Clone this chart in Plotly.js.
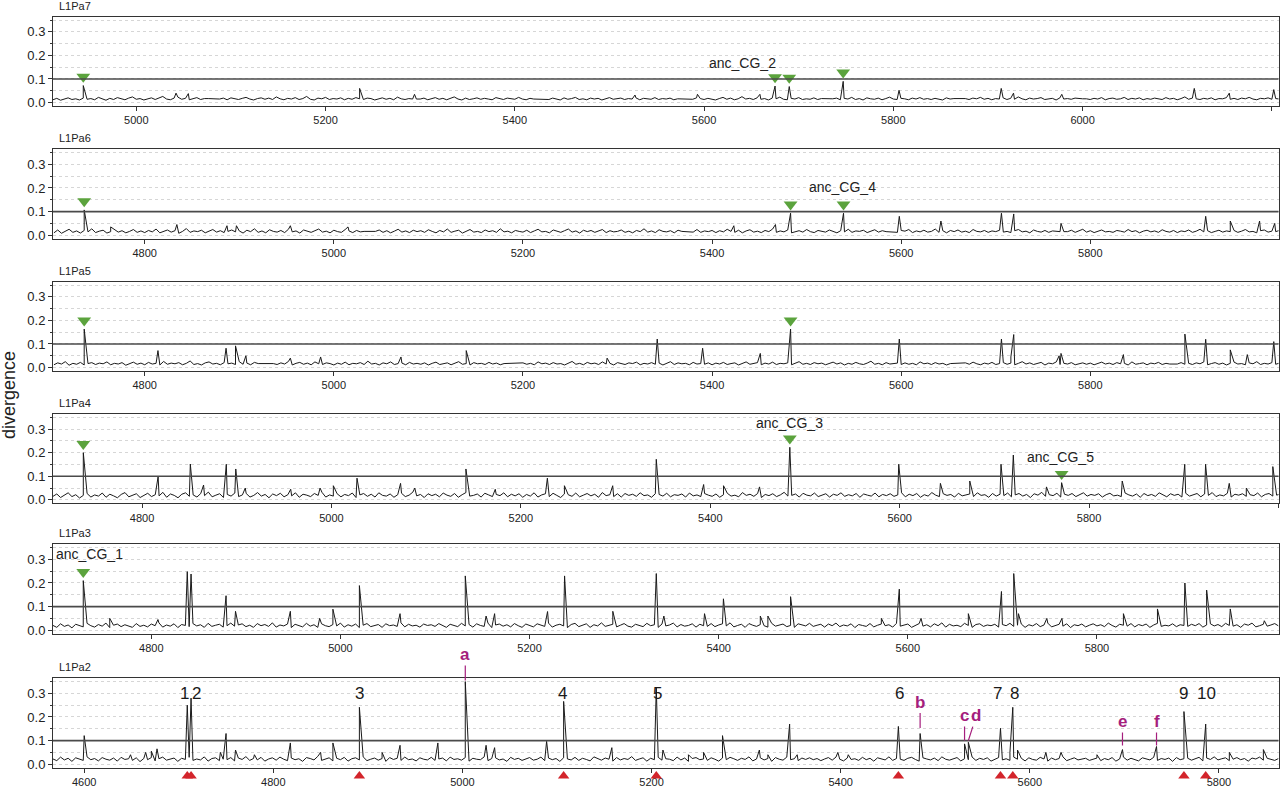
<!DOCTYPE html>
<html><head><meta charset="utf-8">
<script src="https://cdn.plot.ly/plotly-3.0.1.min.js"></script>
<style>html,body{margin:0;padding:0;background:#fff}#chart{width:1280px;height:789px}</style>
</head><body><div id="chart"></div>
<script>
// ---------- DATA ----------
const panelNames = ['L1Pa7','L1Pa6','L1Pa5','L1Pa4','L1Pa3','L1Pa2'];
const xRanges = [[4912,6207],[4703,5999],[4703,5999],[4706,6000],[4696,5992],[4567,5863]];
const baseStart = [4912,4704,4704,4706,4696,4567];
const baseStep = 4;

const base_L1Pa7 = [
.012,.018,.010,.015,.020,.013,.016,.011,.019,.014,.017,.012,.022,.015,.010,.018,.013,.021,.016,.012,.019,.024,.014,.017,.011,
.016,.020,.013,.018,.026,.015,.012,.019,.023,.014,.018,.012,.016,.021,.013,.017,.017,.017,.017,.015,.019,.012,.020,.016,.013,
.018,.022,.015,.011,.017,.020,.014,.019,.013,.024,.016,.012,.018,.015,.021,.013,.017,.026,.014,.011,.019,.016,.022,.013,.017,
.015,.020,.012,.018,.014,.021,.016,.013,.019,.017,.011,.015,.020,.014,.018,.012,.023,.016,.013,.017,.015,.015,.015,.019,.012,
.016,.021,.014,.018,.012,.017,.024,.015,.011,.019,.013,.016,.020,.014,.018,.015,.012,.021,.017,.013,.019,.016,.014,.022,.015,
.012,.018,.015,.015,.015,.015,.013,.019,.016,.011,.020,.014,.017,.022,.013,.016,.012,.019,.015,.018,.011,.017,.021,.014,.016,
.019,.013,.017,.015,.020,.012,.018,.016,.014,.021,.013,.017,.015,.019,.012,.016,.016,.016,.016,.014,.020,.017,.013,.018,.015,
.011,.017,.022,.014,.019,.012,.016,.025,.015,.018,.013,.020,.014,.017,.011,.019,.016,.023,.014,.012,.018,.015,.021,.013,.016,
.014,.020,.013,.017,.016,.016,.016,.019,.012,.018,.015,.022,.013,.017,.011,.020,.016,.014,.019,.012,.017,.023,.015,.013,.018,
.016,.012,.019,.015,.021,.014,.017,.013,.018,.016,.011,.020,.015,.017,.017,.017,.017,.013,.019,.016,.022,.014,.018,.012,.017,
.015,.020,.013,.018,.014,.024,.016,.012,.019,.015,.017,.021,.013,.016,.018,.011,.020,.015,.017,.014,.019,.016,.016,.016,.013,
.018,.015,.021,.012,.017,.019,.014,.016,.022,.013,.018,.015,.020,.012,.017,.014,.019,.016,.013,.021,.015,.018,.012,.017,.024,
.014,.019,.016,.013,.018,.015,.020,.012,.017,.016,.021,.014,.018,.013,.019,.016,.022,.015,.012,.018,.016,.020,.014,.017,.015];
const base_L1Pa6 = [
.010,.022,.008,.016,.025,.012,.018,.009,.020,.014,.027,.011,.017,.021,.009,.015,.023,.013,.019,.010,.016,.024,.012,.018,.011,
.020,.014,.026,.010,.017,.022,.013,.019,.008,.016,.028,.012,.018,.015,.021,.010,.017,.024,.013,.019,.011,.016,.022,.014,.018,
.009,.021,.015,.027,.012,.018,.010,.023,.016,.013,.020,.011,.025,.014,.018,.009,.022,.016,.012,.019,.026,.013,.017,.010,.021,
.015,.012,.024,.018,.011,.020,.014,.016,.016,.016,.016,.022,.012,.019,.010,.017,.025,.013,.018,.011,.021,.015,.019,.012,.023,
.016,.010,.020,.014,.026,.012,.017,.021,.009,.018,.024,.013,.016,.011,.022,.015,.019,.012,.027,.014,.017,.010,.020,.016,.013,
.021,.011,.018,.025,.014,.016,.010,.022,.017,.012,.019,.026,.013,.018,.009,.021,.015,.020,.012,.017,.024,.011,.019,.014,.016,
.022,.012,.017,.010,.020,.015,.027,.013,.018,.011,.023,.016,.014,.019,.010,.021,.016,.016,.016,.013,.024,.012,.018,.015,.020,
.011,.019,.014,.025,.016,.012,.021,.010,.018,.023,.013,.017,.011,.020,.015,.026,.012,.018,.014,.022,.010,.016,.019,.013,.024,
.015,.011,.020,.016,.013,.022,.017,.010,.019,.014,.025,.012,.018,.016,.021,.011,.017,.023,.013,.019,.015,.015,.015,.012,.020,
.017,.024,.011,.018,.014,.021,.013,.016,.026,.012,.019,.010,.020,.015,.022,.013,.017,.011,.024,.016,.014,.020,.012,.018,.015,
.021,.013,.016,.011,.019,.024,.014,.017,.010,.022,.016,.013,.020,.012,.018,.015,.015,.015,.015,.021,.012,.017,.025,.013,.019,
.011,.018,.022,.014,.016,.012,.020,.017,.013,.024,.015,.019,.010,.017,.021,.014,.018,.012,.023,.016,.013,.020,.011,.018,.015,
.022,.012,.017,.025,.014,.019,.011,.016,.021,.013,.018,.015,.020,.012,.017,.024,.014,.016,.010,.019,.022,.013,.017,.015,.020];
const base_L1Pa5 = [
.012,.020,.015,.025,.010,.018,.014,.022,.011,.017,.021,.013,.019,.016,.024,.012,.018,.015,.021,.010,.017,.023,.014,.019,.012,
.022,.015,.018,.011,.026,.014,.019,.016,.021,.012,.018,.028,.013,.017,.011,.020,.024,.015,.018,.012,.021,.016,.019,.013,.025,
.014,.019,.012,.022,.017,.017,.017,.017,.017,.013,.020,.015,.026,.011,.018,.022,.014,.019,.012,.024,.016,.013,.020,.017,.011,
.019,.014,.023,.012,.018,.016,.021,.013,.027,.015,.018,.011,.020,.016,.024,.013,.017,.019,.012,.022,.015,.018,.014,.020,.011,
.018,.023,.013,.016,.020,.012,.019,.025,.014,.017,.011,.021,.016,.018,.013,.022,.015,.019,.012,.017,.017,.017,.017,.017,.020,
.014,.018,.012,.024,.016,.019,.013,.021,.015,.017,.011,.020,.026,.014,.018,.012,.022,.016,.019,.013,.024,.015,.018,.011,.021,
.016,.013,.020,.017,.023,.012,.018,.015,.021,.014,.019,.011,.017,.025,.013,.020,.016,.018,.012,.022,.015,.017,.014,.020,.012,
.019,.015,.022,.013,.017,.020,.011,.018,.024,.014,.016,.021,.012,.019,.015,.023,.013,.018,.016,.020,.012,.017,.025,.014,.018,
.013,.021,.016,.019,.012,.017,.023,.015,.020,.011,.018,.014,.022,.016,.013,.019,.027,.014,.018,.012,.021,.015,.017,.019,.013,
.020,.014,.018,.012,.024,.016,.019,.013,.021,.015,.018,.011,.017,.017,.017,.017,.020,.014,.023,.016,.012,.019,.015,.022,.013,
.017,.021,.014,.019,.012,.018,.025,.015,.020,.013,.017,.022,.011,.019,.016,.024,.013,.018,.015,.021,.012,.017,.020,.014,.019,
.012,.018,.023,.015,.019,.013,.021,.016,.018,.011,.024,.014,.017,.020,.012,.019,.016,.022,.013,.018,.015,.015,.015,.021,.014,
.018,.013,.020,.016,.024,.012,.017,.021,.014,.019,.011,.018,.023,.015,.017,.012,.020,.016,.025,.013,.018,.015,.021,.014,.019];
const base_L1Pa4 = [
.015,.025,.010,.020,.030,.014,.022,.008,.019,.027,.012,.021,.016,.029,.011,.024,.017,.009,.023,.031,.013,.020,.026,.010,.018,
.028,.014,.022,.017,.032,.011,.025,.019,.009,.024,.030,.015,.021,.012,.027,.018,.033,.013,.020,.026,.010,.023,.016,.029,.014,
.021,.027,.012,.019,.031,.016,.023,.009,.025,.018,.028,.013,.022,.017,.030,.011,.024,.020,.014,.027,.019,.032,.012,.021,.016,
.026,.013,.023,.018,.029,.010,.021,.027,.015,.024,.012,.030,.019,.016,.025,.011,.022,.028,.014,.020,.033,.017,.023,.010,.026,
.018,.024,.013,.029,.020,.015,.027,.011,.022,.031,.016,.019,.025,.012,.028,.021,.014,.023,.018,.030,.013,.024,.017,.026,.011,
.023,.016,.030,.012,.021,.026,.014,.028,.019,.010,.025,.022,.015,.029,.013,.020,.027,.017,.024,.011,.031,.018,.022,.014,.026,
.012,.027,.019,.024,.015,.030,.018,.021,.011,.026,.023,.016,.028,.013,.022,.019,.025,.012,.029,.017,.021,.014,.027,.020,.015,
.025,.011,.022,.028,.016,.020,.013,.031,.019,.024,.015,.027,.010,.023,.018,.026,.014,.021,.032,.016,.019,.025,.012,.028,.020,
.017,.029,.014,.021,.026,.012,.024,.019,.030,.015,.022,.017,.027,.011,.025,.020,.016,.029,.013,.023,.018,.026,.015,.021,.030,
.013,.024,.018,.027,.011,.022,.016,.031,.020,.014,.026,.019,.023,.012,.028,.017,.021,.025,.014,.030,.019,.022,.011,.027,.016,
.024,.018,.029,.013,.021,.027,.016,.023,.010,.026,.020,.032,.015,.022,.018,.028,.012,.024,.019,.027,.014,.021,.030,.016,.023,
.019,.026,.012,.022,.028,.017,.020,.014,.029,.021,.016,.025,.011,.027,.018,.023,.015,.030,.020,.013,.026,.019,.024,.012,.028,
.016,.022,.027,.013,.025,.019,.031,.014,.021,.017,.028,.012,.024,.020,.026,.015,.022,.018,.029,.013,.023,.027,.016,.020,.025];
const base_L1Pa3 = [
.020,.012,.027,.016,.022,.010,.025,.018,.014,.029,.019,.013,.024,.017,.030,.011,.021,.026,.015,.023,.018,.012,.028,.016,.021,
.014,.026,.019,.031,.013,.022,.017,.027,.011,.024,.020,.015,.028,.018,.023,.012,.029,.016,.021,.025,.013,.019,.030,.017,.022,
.027,.015,.021,.012,.028,.019,.024,.016,.031,.013,.022,.018,.026,.011,.025,.020,.014,.029,.017,.023,.012,.027,.019,.015,.024,
.018,.030,.013,.023,.017,.026,.011,.021,.028,.015,.020,.024,.012,.027,.019,.022,.016,.031,.014,.025,.018,.021,.013,.026,.020,
.023,.016,.028,.019,.012,.025,.021,.015,.029,.018,.024,.013,.027,.020,.016,.030,.011,.022,.026,.017,.023,.014,.028,.019,.012,
.026,.019,.014,.027,.022,.016,.030,.013,.021,.025,.018,.011,.024,.029,.015,.020,.027,.012,.023,.018,.031,.016,.021,.025,.014,
.021,.028,.017,.013,.025,.020,.015,.029,.019,.023,.012,.026,.018,.022,.030,.014,.024,.017,.020,.027,.013,.025,.019,.016,.028,
.015,.022,.027,.018,.031,.014,.020,.025,.012,.028,.021,.016,.024,.019,.013,.029,.017,.023,.026,.015,.020,.012,.027,.022,.018,
.029,.016,.021,.025,.013,.026,.019,.030,.015,.022,.018,.027,.011,.024,.020,.016,.028,.014,.021,.026,.019,.023,.013,.029,.017,
.022,.026,.012,.020,.028,.017,.023,.014,.027,.019,.031,.013,.025,.018,.021,.015,.029,.020,.012,.024,.027,.016,.022,.019,.025,
.013,.024,.019,.029,.016,.021,.026,.012,.023,.018,.028,.015,.022,.030,.014,.020,.025,.017,.027,.011,.023,.019,.026,.014,.021,
.027,.018,.023,.015,.030,.020,.013,.025,.021,.017,.028,.014,.024,.019,.026,.012,.022,.029,.016,.021,.018,.027,.015,.023,.020,
.016,.025,.019,.028,.013,.022,.027,.018,.024,.015,.029,.020,.017,.023,.012,.026,.021,.030,.014,.019,.025,.017,.022,.028,.018];
const base_L1Pa2 = [
.022,.015,.030,.018,.025,.012,.027,.020,.016,.031,.019,.024,.014,.028,.021,.017,.026,.013,.029,.020,.023,.016,.027,.011,.024,
.019,.028,.014,.023,.030,.017,.021,.026,.012,.025,.020,.029,.016,.022,.018,.031,.013,.024,.027,.015,.021,.019,.028,.014,.026,
.020,.032,.016,.024,.018,.029,.013,.022,.027,.017,.030,.021,.015,.026,.019,.023,.012,.028,.024,.018,.033,.016,.022,.027,.014,
.025,.019,.029,.013,.023,.027,.018,.031,.015,.021,.026,.017,.024,.012,.028,.020,.025,.016,.030,.019,.022,.014,.027,.021,.018,
.029,.016,.022,.026,.014,.030,.020,.023,.017,.028,.013,.025,.021,.019,.031,.015,.024,.027,.018,.022,.012,.029,.020,.025,.016,
.023,.028,.017,.021,.030,.015,.026,.019,.024,.012,.027,.022,.018,.029,.016,.025,.020,.014,.031,.023,.017,.026,.021,.013,.028,
.018,.024,.020,.032,.016,.022,.027,.013,.025,.019,.029,.017,.023,.021,.015,.030,.018,.026,.012,.024,.028,.019,.022,.016,.027,
.021,.013,.026,.019,.029,.023,.016,.025,.020,.031,.014,.022,.027,.018,.024,.012,.028,.021,.017,.030,.019,.023,.015,.026,.020,
.027,.019,.024,.015,.022,.028,.017,.030,.021,.014,.026,.020,.023,.016,.029,.019,.025,.013,.027,.022,.018,.031,.016,.024,.021,
.016,.025,.029,.020,.013,.027,.022,.018,.026,.015,.031,.021,.017,.024,.028,.014,.023,.019,.030,.016,.025,.020,.027,.013,.022,
.028,.018,.023,.016,.030,.021,.025,.014,.027,.020,.017,.029,.022,.013,.026,.019,.024,.031,.015,.021,.027,.018,.023,.025,.016,
.020,.026,.015,.024,.019,.028,.013,.022,.030,.017,.025,.021,.014,.027,.023,.018,.029,.016,.024,.020,.026,.012,.028,.019,.023,
.025,.017,.022,.029,.014,.026,.020,.031,.018,.023,.027,.015,.021,.028,.019,.024,.013,.026,.022,.030,.017,.025,.020,.016,.024];

const peaksX_L1Pa7 = [4944,5042,5055,5236,5294,5527,5593,5659,5675,5690,5747,5806,5914,5927,5978,6118,6155,6202];
const peaksY_L1Pa7 = [0.072,0.040,0.038,0.060,0.035,0.032,0.035,0.035,0.070,0.068,0.090,0.052,0.060,0.040,0.035,0.060,0.040,0.055];
const peaksX_L1Pa6 = [4736,4764,4834,4887,4897,4954,5015,5423,5467,5483,5539,5598,5642,5706,5719,5769,5922,5948,5979,5995];
const peaksY_L1Pa6 = [0.107,0.035,0.045,0.040,0.040,0.040,0.035,0.040,0.045,0.093,0.093,0.080,0.060,0.093,0.090,0.050,0.080,0.060,0.060,0.050];
const peaksX_L1Pa5 = [4736,4814,4886,4896,4907,4954,4986,5071,5140,5289,5342,5390,5451,5483,5598,5706,5716,5719,5767,5769,5835,5900,5922,5948,5966,5994];
const peaksY_L1Pa5 = [0.163,0.072,0.082,0.092,0.050,0.040,0.045,0.045,0.072,0.040,0.121,0.082,0.060,0.163,0.121,0.121,0.045,0.140,0.050,0.060,0.055,0.142,0.120,0.075,0.055,0.110];
const peaksX_L1Pa4 = [4738,4817,4851,4865,4889,4899,4909,4957,4988,5002,5027,5073,5088,5142,5173,5228,5246,5297,5343,5393,5414,5452,5484,5599,5643,5674,5707,5720,5755,5771,5835,5901,5923,5948,5966,5994];
const peaksY_L1Pa4 = [0.200,0.099,0.152,0.063,0.151,0.131,0.050,0.045,0.050,0.060,0.092,0.070,0.050,0.131,0.045,0.092,0.060,0.060,0.172,0.065,0.060,0.055,0.223,0.151,0.070,0.080,0.151,0.190,0.055,0.073,0.080,0.151,0.151,0.070,0.050,0.141];
const peaksX_L1Pa3 = [4728,4756,4807,4838,4842,4879,4889,4947,4978,4992,5020,5063,5132,5154,5163,5219,5237,5288,5334,5342,5385,5405,5444,5452,5476,5572,5591,5614,5664,5699,5712,5717,5747,5763,5828,5864,5893,5916,5941,5977];
const peaksY_L1Pa3 = [0.210,0.050,0.045,0.248,0.238,0.146,0.080,0.080,0.050,0.089,0.189,0.070,0.230,0.060,0.070,0.079,0.230,0.080,0.240,0.060,0.070,0.133,0.060,0.060,0.142,0.050,0.174,0.050,0.070,0.164,0.240,0.070,0.050,0.050,0.070,0.090,0.200,0.170,0.090,0.040];
const peaksX_L1Pa2 = [4600,4649,4665,4671,4677,4709,4713,4744,4750,4760,4780,4818,4850,4863,4891,4915,4934,4974,5003,5025,5034,5089,5107,5158,5205,5212,5239,5255,5275,5314,5323,5346,5354,5397,5408,5461,5484,5531,5535,5569,5579,5582,5587,5617,5633,5671,5698,5734,5763,5786,5811,5847];
const peaksY_L1Pa2 = [0.121,0.040,0.050,0.055,0.065,0.250,0.280,0.050,0.130,0.060,0.040,0.090,0.050,0.090,0.241,0.050,0.080,0.090,0.350,0.080,0.070,0.097,0.266,0.070,0.325,0.060,0.040,0.050,0.121,0.060,0.040,0.170,0.040,0.050,0.040,0.160,0.130,0.086,0.093,0.152,0.050,0.241,0.060,0.050,0.050,0.040,0.062,0.075,0.223,0.170,0.050,0.062];

const green_L1Pa7 = [4944,5675,5690,5747];
const green_L1Pa6 = [4736,5483,5539];
const green_L1Pa5 = [4736,5483];
const green_L1Pa4 = [4738,5484,5771];
const green_L1Pa3 = [4728];
const green_L1Pa2 = [];

const ancText  = ['anc_CG_2','anc_CG_4','anc_CG_3','anc_CG_5','anc_CG_1'];
const ancPanel = [0,1,3,3,4];
const ancX     = [5641,5538,5484,5770,4735];
const ancY     = [0.167,0.205,0.324,0.183,0.325];

const siteNumbers = ['1','2','3','4','5','6','7','8','9','10'];
const siteX       = [4709,4713,4891,5107,5205,5461,5569,5582,5763,5786];
const siteLabelX  = [4706,4719,4891,5106,5206,5462,5566,5584,5763,5787];

const letterText = ['a','b','c','d','e','f'];
const letterX    = [5003,5484,5531,5535,5698,5734];
const letterTipY = [0.355,0.153,0.100,0.100,0.079,0.079];

// ---------- BUILD ----------
const baseArrays = [base_L1Pa7,base_L1Pa6,base_L1Pa5,base_L1Pa4,base_L1Pa3,base_L1Pa2];
const peakXs = [peaksX_L1Pa7,peaksX_L1Pa6,peaksX_L1Pa5,peaksX_L1Pa4,peaksX_L1Pa3,peaksX_L1Pa2];
const peakYs = [peaksY_L1Pa7,peaksY_L1Pa6,peaksY_L1Pa5,peaksY_L1Pa4,peaksY_L1Pa3,peaksY_L1Pa2];
const greens = [green_L1Pa7,green_L1Pa6,green_L1Pa5,green_L1Pa4,green_L1Pa3,green_L1Pa2];

const W = 1280, H = 789;
const FONT = 'Liberation Sans, Arial, Helvetica, sans-serif';
const tops = [16.7,149.3,281.7,414.0,544.3,678.3];
const ph = 89.3;
const yRange = [-0.0145, 0.364];
const xDom = [53/W, 1278.5/W];
const GREEN = '#5ba33d', RED = '#d3242b', MAG = '#a51e7d';

const data = [], annotations = [], shapes = [];
const layout = {
  width: W, height: H, margin:{l:0,r:0,t:0,b:0},
  paper_bgcolor:'#fff', plot_bgcolor:'rgba(0,0,0,0)', showlegend:false,
  font:{family:FONT, color:'#222'}
};

for (let i=0;i<6;i++){
  const n = i===0 ? '' : String(i+1);
  const xa = 'x'+n, ya = 'y'+n;
  const pts = baseArrays[i].map((v,k)=>[baseStart[i]+k*baseStep, v]);
  peakXs[i].forEach((x,k)=>pts.push([x, peakYs[i][k]]));
  pts.sort((a,b)=>a[0]-b[0]);
  data.push({type:'scatter', mode:'lines', x:pts.map(p=>p[0]), y:pts.map(p=>p[1]),
    xaxis:xa, yaxis:ya, line:{color:'#1a1a1a', width:1}, hoverinfo:'skip'});
  if (greens[i].length){
    const gy = greens[i].map(x=>{const k=peakXs[i].indexOf(x); return (k>=0?peakYs[i][k]:0.05)+0.037;});
    data.push({type:'scatter', mode:'markers', x:greens[i], y:gy, xaxis:xa, yaxis:ya, cliponaxis:false,
      marker:{symbol:'triangle-down', size:12, color:GREEN}, hoverinfo:'skip'});
  }
  const top = tops[i];
  layout['xaxis'+n] = {domain:xDom, anchor:ya, range:xRanges[i], dtick:200, tick0:0,
    ticks:'outside', ticklen:4, tickcolor:'#333', showline:true, mirror:true, linecolor:'#333', linewidth:1,
    showgrid:false, zeroline:false, tickfont:{size:11, family:FONT, color:'#222'}};
  layout['yaxis'+n] = {domain:[1-(top+ph)/H, 1-top/H], anchor:xa, range:yRange, dtick:0.1, tick0:0,
    tickformat:'.1f', ticks:'outside', ticklen:4, tickcolor:'#333', showline:true, mirror:true,
    linecolor:'#333', linewidth:1, zeroline:false, showgrid:true, gridcolor:'#d6d6d6', griddash:'dot', gridwidth:1,
    minor:{dtick:0.05, tick0:0, ticks:'outside', ticklen:2, tickcolor:'#333', showgrid:true, gridcolor:'#d6d6d6', griddash:'dot'},
    tickfont:{size:13, family:FONT, color:'#222'}};
  shapes.push({type:'line', xref:xa+' domain', x0:0, x1:1, yref:ya, y0:0.1, y1:0.1, line:{color:'#4a4a4a', width:1.6}});
  annotations.push({xref:'paper', yref:'paper', x:57/W, y:1-(top-11)/H, xanchor:'left', yanchor:'middle',
    text:panelNames[i], showarrow:false, font:{size:11, color:'#222'}});
}

// strip below the L1Pa2 panel for the red site arrowheads
layout.yaxis7 = {domain:[1-783/H, 1-769/H], anchor:'x6', range:[0,1], visible:false, fixedrange:true};
data.push({type:'scatter', mode:'markers', x:siteX, y:siteX.map(()=>0.5), xaxis:'x6', yaxis:'y7',
  cliponaxis:false, marker:{symbol:'triangle-up', size:10, color:RED}, hoverinfo:'skip'});

ancText.forEach((t,k)=>{
  const n = ancPanel[k]===0 ? '' : String(ancPanel[k]+1);
  annotations.push({xref:'x'+n, yref:'y'+n, x:ancX[k], y:ancY[k], text:t, showarrow:false,
    font:{size:14, color:'#222'}});
});

siteNumbers.forEach((t,k)=>{
  annotations.push({xref:'x6', yref:'y6', x:siteLabelX[k], y:0.30, text:t, showarrow:false,
    font:{size:17, color:'#1a1a1a'}});
});

const letterAx = [0,0,0,8,0,0];
const letterAy = [-26,-26,-25,-25,-24,-24];
letterText.forEach((t,k)=>{
  annotations.push({xref:'x6', yref:'y6', x:letterX[k], y:letterTipY[k], text:'<b>'+t+'</b>',
    showarrow:true, arrowhead:0, arrowwidth:1.2, arrowcolor:MAG, ax:letterAx[k], ay:letterAy[k],
    standoff:0, font:{size:17, color:MAG}});
});

annotations.push({xref:'paper', yref:'paper', x:9/W, y:1-395/H, xanchor:'center', yanchor:'middle',
  text:'divergence', textangle:-90, showarrow:false, font:{size:18, color:'#222'}});

layout.annotations = annotations;
layout.shapes = shapes;
Plotly.newPlot('chart', data, layout, {staticPlot:true});
</script>
</body></html>
